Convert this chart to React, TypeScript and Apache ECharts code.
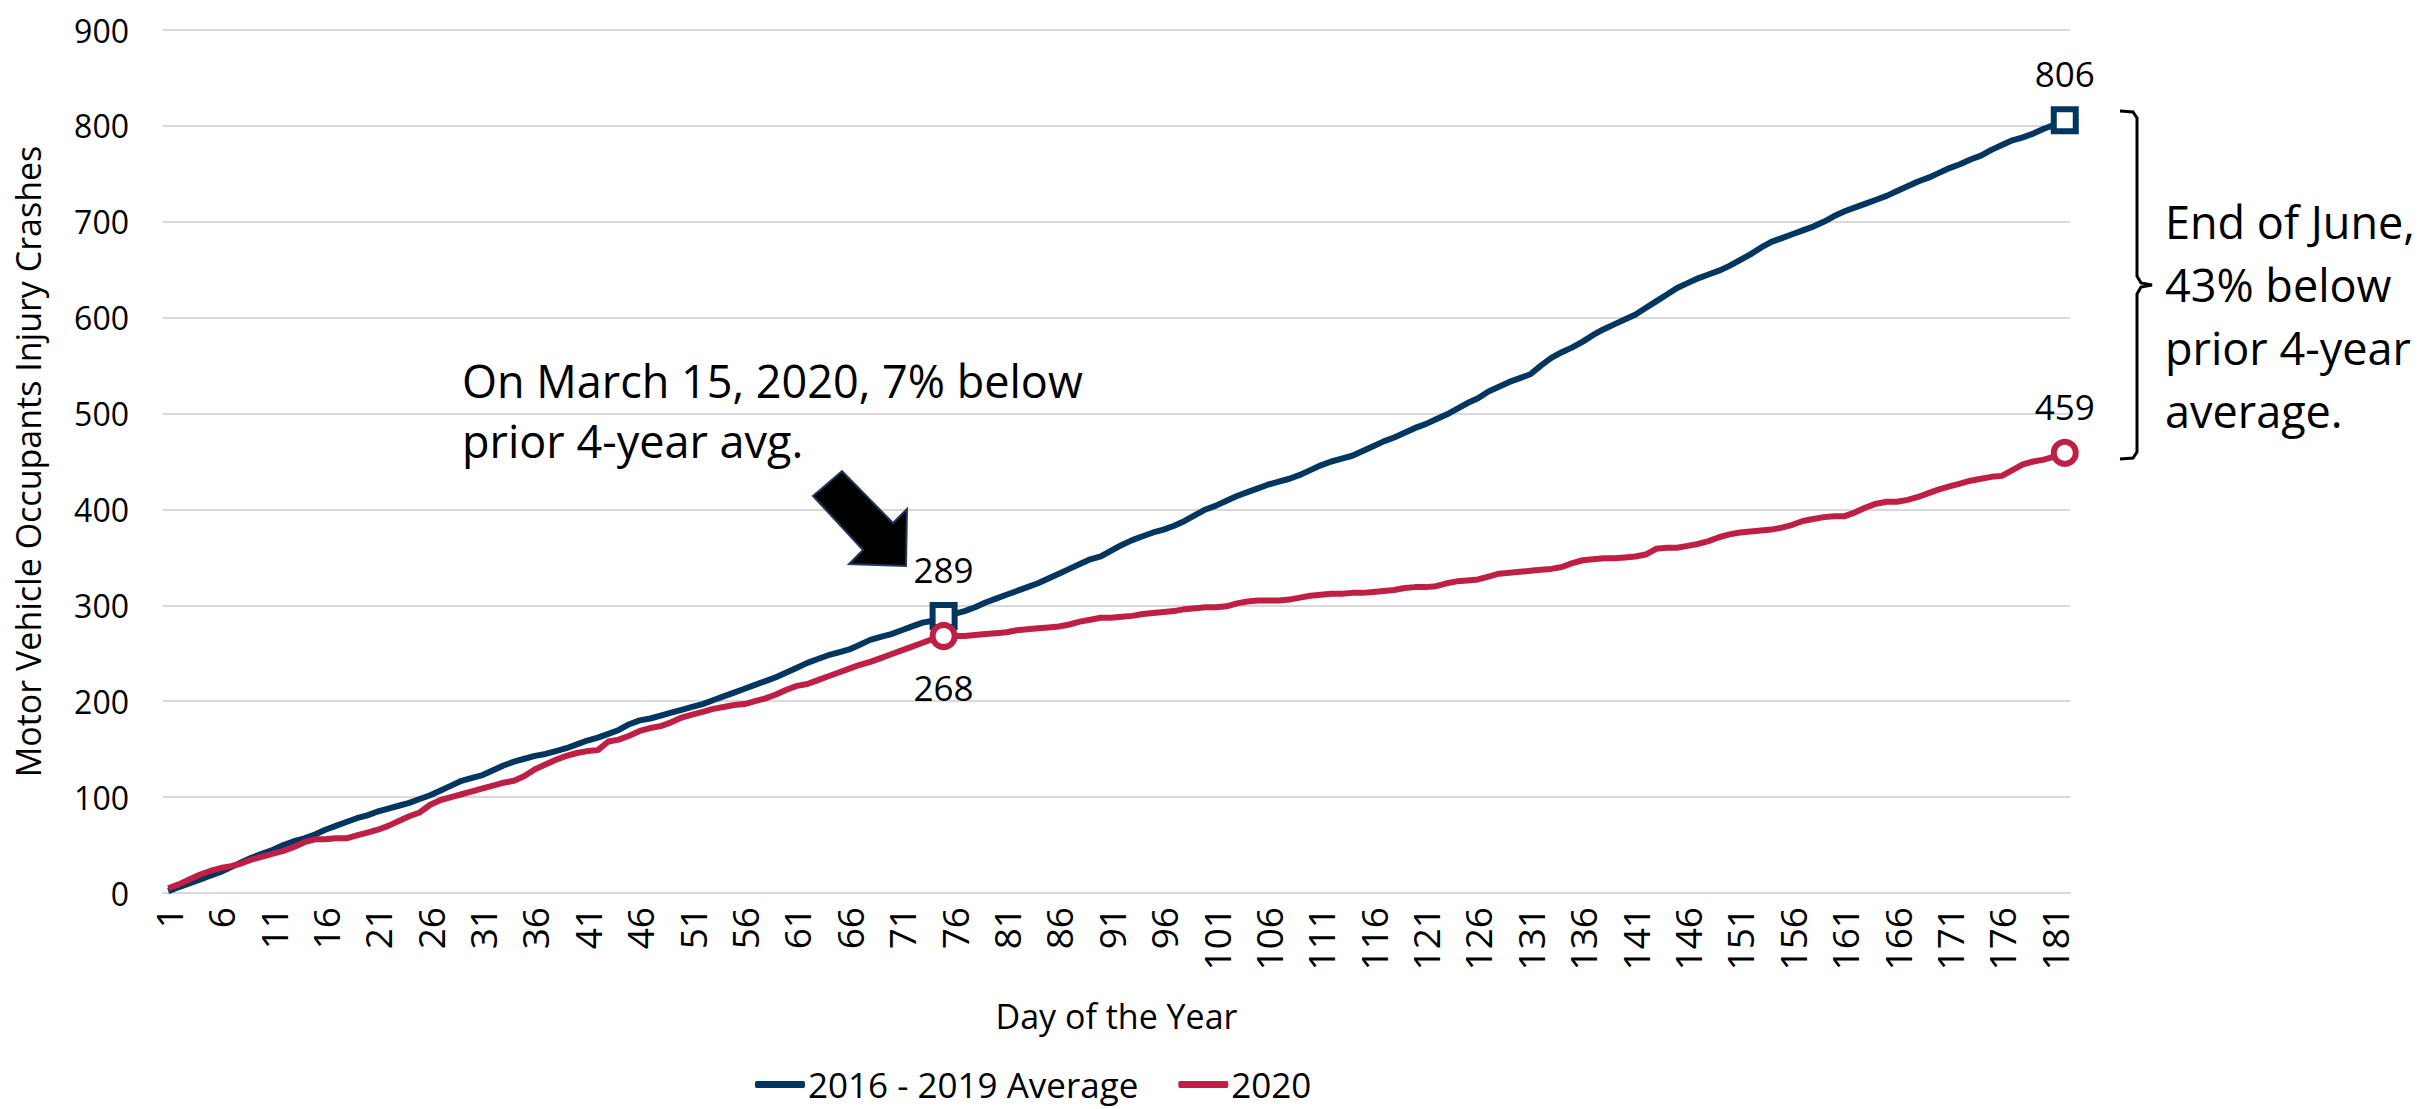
import React, { useEffect, useRef } from "react";
import * as echarts from "echarts";

// Day of the year (Jan 1 .. Jun 30, 2020 is a leap year -> 182 days)
const days: string[] = Array.from({ length: 182 }, (_, i) => String(i + 1));

// Cumulative motor vehicle occupant injury crashes, 2016-2019 average
const avg2016to2019: number[] = [
  2, 6, 10, 14, 18, 22, 27, 32, 37, 41,
  45, 50, 54, 57, 61, 66, 70, 74, 78, 81,
  85, 88, 91, 94, 98, 102, 107, 112, 117, 120,
  123, 128, 133, 137, 140, 143, 145, 148, 151, 155,
  159, 162, 166, 170, 176, 180, 182, 185, 188, 191,
  194, 197, 201, 205, 209, 213, 217, 221, 225, 230,
  235, 240, 244, 248, 251, 254, 259, 264, 267, 270,
  274, 278, 282, 284, 289, 291, 294, 298, 303, 307,
  311, 315, 319, 323, 328, 333, 338, 343, 348, 351,
  357, 363, 368, 372, 376, 379, 383, 388, 394, 400,
  404, 409, 414, 418, 422, 426, 429, 432, 436, 441,
  446, 450, 453, 456, 461, 466, 471, 475, 480, 485,
  489, 494, 499, 505, 511, 516, 523, 528, 533, 537,
  541, 550, 558, 564, 569, 575, 582, 588, 593, 598,
  603, 610, 617, 624, 631, 636, 641, 645, 649, 654,
  660, 666, 673, 679, 683, 687, 691, 695, 700, 706,
  711, 715, 719, 723, 727, 732, 737, 742, 746, 751,
  756, 760, 765, 769, 775, 780, 785, 788, 792, 797,
  801, 806,
];

// Cumulative motor vehicle occupant injury crashes, 2020
const year2020: number[] = [
  5, 9, 14, 19, 23, 26, 28, 31, 35, 38,
  41, 44, 48, 53, 56, 56, 57, 57, 60, 63,
  66, 70, 75, 80, 84, 92, 97, 100, 103, 106,
  109, 112, 115, 117, 122, 129, 134, 139, 143, 146,
  148, 149, 158, 160, 164, 169, 172, 174, 178, 183,
  186, 189, 192, 194, 196, 197, 200, 203, 207, 212,
  216, 218, 222, 226, 230, 234, 238, 241, 245, 249,
  253, 257, 261, 265, 268, 268, 268, 269, 270, 271,
  272, 274, 275, 276, 277, 278, 280, 283, 285, 287,
  287, 288, 289, 291, 292, 293, 294, 296, 297, 298,
  298, 299, 302, 304, 305, 305, 305, 306, 308, 310,
  311, 312, 312, 313, 313, 314, 315, 316, 318, 319,
  319, 320, 323, 325, 326, 327, 330, 333, 334, 335,
  336, 337, 338, 340, 344, 347, 348, 349, 349, 350,
  351, 353, 359, 360, 360, 362, 364, 367, 371, 374,
  376, 377, 378, 379, 381, 384, 388, 390, 392, 393,
  393, 397, 402, 406, 408, 408, 410, 413, 417, 421,
  424, 427, 430, 432, 434, 435, 441, 447, 450, 452,
  455, 459,
];

// Highlighted days: March 15 (day 75) and June 30 (day 182)
const markedDays: number[] = [75, 182];

const SERIES_NAMES = ["2016 - 2019 Average", "2020"];
const BLUE = "#00365F";
const RED = "#BF1F45";
const FONT = "Open Sans";

export default function App() {
  const ref = useRef<HTMLDivElement>(null);

  useEffect(() => {
    if (!ref.current) return;
    const chart = echarts.init(ref.current, undefined, { renderer: "svg" });

    const labelBase = {
      show: true,
      fontFamily: FONT,
      fontSize: 35,
      color: "#000",
      opacity: 1,
      formatter: (p: any) => String(p.value[1]),
    };

    const blueMarks = markedDays.map((d) => ({
      value: [String(d), avg2016to2019[d - 1]],
      label: { ...labelBase, position: "top", distance: 15 },
    }));
    const redMarks = markedDays.map((d, i) => ({
      value: [String(d), year2020[d - 1]],
      label: {
        ...labelBase,
        position: i === 0 ? "bottom" : "top",
        distance: i === 0 ? 20 : 15,
      },
    }));

    chart.setOption({
      animation: false,
      backgroundColor: "#fff",
      textStyle: { fontFamily: FONT },
      grid: { left: 163, top: 30, width: 1907, height: 863, containLabel: false },
      legend: {
        data: SERIES_NAMES,
        left: 750,
        top: 1062,
        icon: "roundRect",
        itemWidth: 50,
        itemHeight: 7,
        itemGap: 40,
        textStyle: { fontFamily: FONT, fontSize: 35, color: "#000", padding: [0, 0, 0, -2] },
      },
      xAxis: {
        type: "category",
        data: days,
        boundaryGap: true,
        axisLine: { show: true, lineStyle: { color: "#D9D9D9", width: 2 } },
        axisTick: { show: false },
        axisLabel: {
          interval: 4,
          rotate: 90,
          fontFamily: FONT,
          fontSize: 37,
          color: "#000",
          margin: 14,
        },
        name: "Day of the Year",
        nameLocation: "middle",
        nameGap: 106,
        nameTextStyle: { fontFamily: FONT, fontSize: 34, color: "#000" },
      },
      yAxis: {
        type: "value",
        min: 0,
        max: 900,
        interval: 100,
        axisLine: { show: false },
        axisTick: { show: false },
        splitLine: { lineStyle: { color: "#D9D9D9", width: 2 } },
        axisLabel: { fontFamily: FONT, fontSize: 32, color: "#000", margin: 34 },
        name: "Motor Vehicle Occupants Injury Crashes",
        nameLocation: "middle",
        nameGap: 118,
        nameRotate: 90,
        nameTextStyle: { fontFamily: FONT, fontSize: 34, color: "#000" },
      },
      series: [
        {
          name: SERIES_NAMES[0],
          type: "line",
          data: avg2016to2019,
          showSymbol: false,
          symbol: "none",
          lineStyle: { color: BLUE, width: 6 },
          itemStyle: { color: BLUE },
          z: 2,
        },
        {
          name: SERIES_NAMES[1],
          type: "line",
          data: year2020,
          showSymbol: false,
          symbol: "none",
          lineStyle: { color: RED, width: 6 },
          itemStyle: { color: RED },
          z: 3,
        },
        {
          name: "blueMarks",
          type: "scatter",
          data: blueMarks,
          symbol: "rect",
          symbolSize: 22,
          itemStyle: { color: "#fff", borderColor: BLUE, borderWidth: 6, opacity: 1 },
          z: 4,
        },
        {
          name: "redMarks",
          type: "scatter",
          data: redMarks,
          symbol: "circle",
          symbolSize: 22,
          itemStyle: { color: "#fff", borderColor: RED, borderWidth: 6, opacity: 1 },
          z: 5,
        },
      ],
      graphic: [
        {
          type: "polygon",
          shape: {
            points: [
              [813, 496],
              [842, 471],
              [893, 523],
              [907, 509],
              [906, 566],
              [849, 564],
              [863, 550],
            ],
          },
          style: { fill: "#000", stroke: "#1F3A5F", lineWidth: 2 },
          z: 10,
        },
        {
          type: "text",
          x: 462,
          y: 350,
          style: {
            text: "On March 15, 2020, 7% below\nprior 4-year avg.",
            fontFamily: FONT,
            fontSize: 45,
            lineHeight: 60,
            fill: "#000",
            align: "left",
            verticalAlign: "top",
          },
          z: 10,
        },
        {
          type: "polyline",
          shape: {
            points: [
              [2120, 111],
              [2133, 112],
              [2137, 118],
              [2137, 276],
              [2141, 283],
              [2152, 285],
              [2141, 287],
              [2137, 294],
              [2137, 452],
              [2133, 458],
              [2120, 459],
            ],
          },
          style: { stroke: "#000", lineWidth: 3, fill: "none" },
          z: 10,
        },
        {
          type: "text",
          x: 2165,
          y: 190,
          style: {
            text: "End of June,\n43% below\nprior 4-year\naverage.",
            fontFamily: FONT,
            fontSize: 45,
            lineHeight: 63,
            fill: "#000",
            align: "left",
            verticalAlign: "top",
          },
          z: 10,
        },
      ],
    });

    return () => chart.dispose();
  }, []);

  return (
    <div
      ref={ref}
      style={{ position: "absolute", left: 0, top: 0, width: 2433, height: 1109, background: "#fff" }}
    />
  );
}
